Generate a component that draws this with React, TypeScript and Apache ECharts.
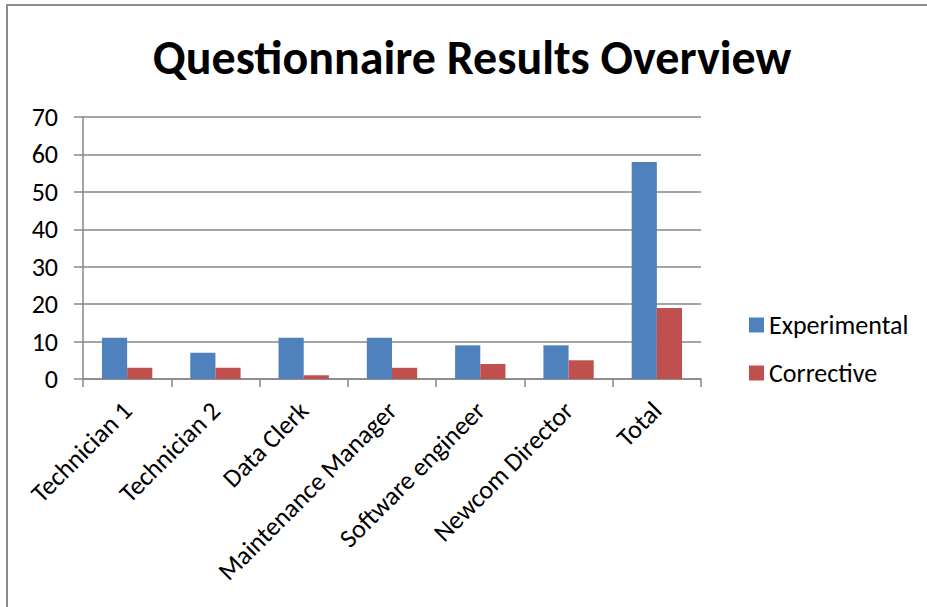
import React, { useEffect, useRef } from "react";
import * as echarts from "echarts";

const categories = [
  "Technician 1",
  "Technician 2",
  "Data Clerk",
  "Maintenance Manager",
  "Software engineer",
  "Newcom Director",
  "Total",
];
const experimental = [11, 7, 11, 11, 9, 9, 58];
const corrective = [3, 3, 1, 3, 4, 5, 19];
const seriesNames = ["Experimental", "Corrective"];
const titleText = "Questionnaire Results Overview";

const FONT = "Carlito, Lato, 'Open Sans', sans-serif";
const GRID_COLOR = "#878787";

export default function App() {
  const ref = useRef<HTMLDivElement>(null);

  useEffect(() => {
    if (!ref.current) return;
    const chart = echarts.init(ref.current, undefined, { renderer: "svg" });
    chart.setOption({
      animation: false,
      backgroundColor: "#ffffff",
      title: {
        text: titleText,
        left: 467,
        top: 28,
        textAlign: "center",
        textStyle: {
          fontFamily: FONT,
          fontWeight: "bold",
          fontSize: 48,
          color: "#000000",
        },
      },
      legend: {
        orient: "vertical",
        left: 744,
        top: 306,
        icon: "rect",
        itemWidth: 15,
        itemHeight: 15,
        itemGap: 20,
        itemTextGap: 6,
        selectedMode: false,
        data: seriesNames,
        textStyle: {
          fontFamily: FONT,
          fontSize: 26,
          lineHeight: 28,
          color: "#000000",
        },
      },
      grid: {
        left: 83,
        top: 117,
        width: 618,
        height: 262,
        containLabel: false,
      },
      xAxis: {
        type: "category",
        data: categories,
        axisLine: { lineStyle: { color: GRID_COLOR, width: 1.5 } },
        axisTick: {
          show: true,
          length: 8,
          lineStyle: { color: GRID_COLOR, width: 1.5 },
        },
        axisLabel: {
          interval: 0,
          rotate: 45,
          margin: 27,
          fontFamily: FONT,
          fontSize: 26,
          color: "#000000",
        },
      },
      yAxis: {
        type: "value",
        min: 0,
        max: 70,
        interval: 10,
        axisLine: { show: true, lineStyle: { color: GRID_COLOR, width: 1.5 } },
        axisTick: {
          show: true,
          length: 9,
          lineStyle: { color: GRID_COLOR, width: 1.5 },
        },
        splitLine: { lineStyle: { color: GRID_COLOR, width: 1.5 } },
        axisLabel: {
          margin: 25,
          fontFamily: FONT,
          fontSize: 26,
          color: "#000000",
        },
      },
      series: [
        {
          name: seriesNames[0],
          type: "bar",
          data: experimental,
          barGap: "0%",
          barCategoryGap: "43%",
          itemStyle: { color: "#4F81BD" },
        },
        {
          name: seriesNames[1],
          type: "bar",
          data: corrective,
          barGap: "0%",
          barCategoryGap: "43%",
          itemStyle: { color: "#C0504D" },
        },
      ],
      graphic: [
        {
          type: "polyline",
          shape: {
            points: [
              [7, 607],
              [7, 5],
              [927, 5],
            ],
          },
          style: { stroke: "#8c8c8c", lineWidth: 2, fill: "none" },
          silent: true,
        },
      ],
    });
    return () => chart.dispose();
  }, []);

  return (
    <div
      ref={ref}
      style={{ position: "fixed", left: 0, top: 0, width: 927, height: 607 }}
    />
  );
}
